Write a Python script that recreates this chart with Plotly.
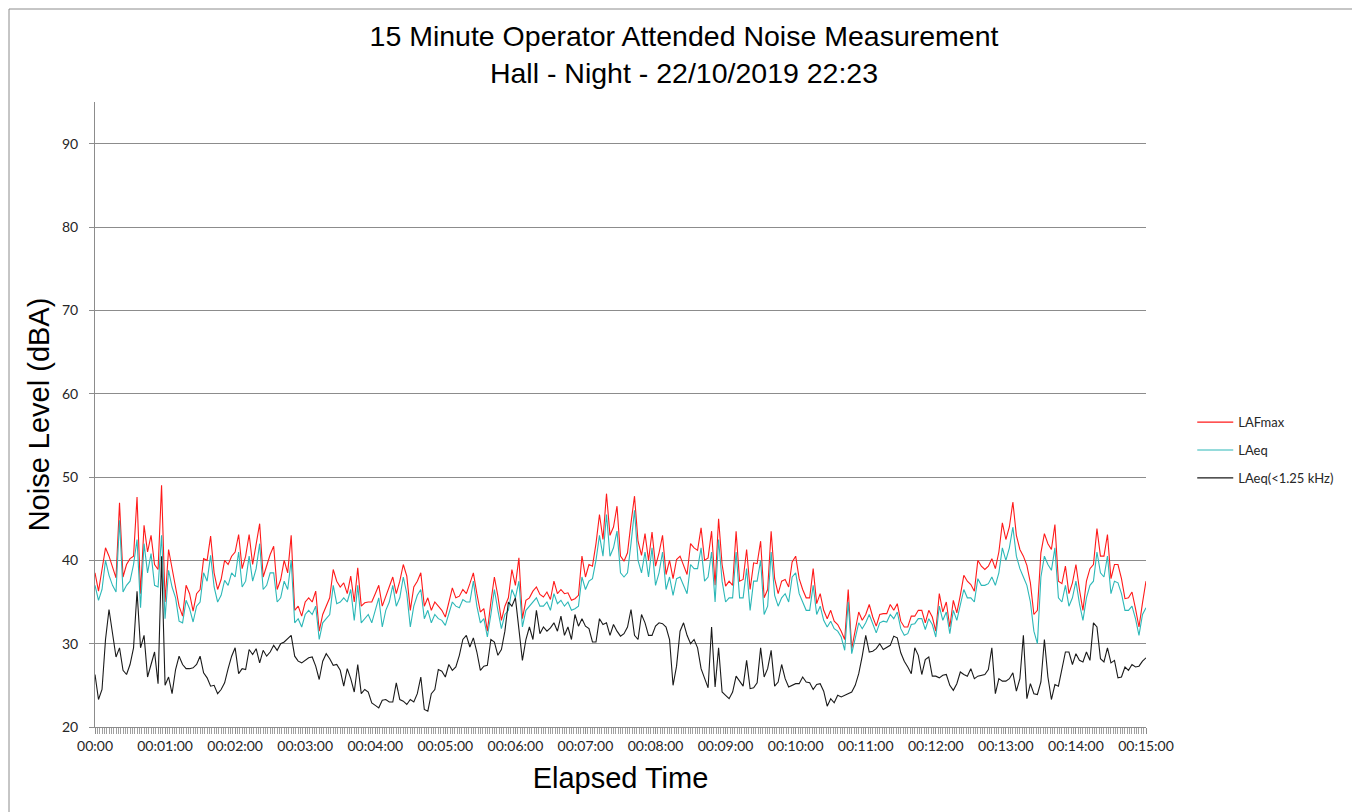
import plotly.graph_objects as go

# Elapsed time in seconds (one reading every 3 s over 15 minutes)
seconds = list(range(0, 901, 3))

tick_seconds = [0, 60, 120, 180, 240, 300, 360, 420, 480, 540, 600, 660, 720, 780, 840, 900]
tick_labels = ["00:00", "00:01:00", "00:02:00", "00:03:00", "00:04:00", "00:05:00",
               "00:06:00", "00:07:00", "00:08:00", "00:09:00", "00:10:00", "00:11:00",
               "00:12:00", "00:13:00", "00:14:00", "00:15:00"]

lafmax = [
    38.5, 36.3, 38.9, 41.5, 40.5, 39.3, 37.9, 46.9, 38.0, 39.5,
    40.2, 40.5, 47.6, 36.0, 44.2, 41.0, 43.0, 39.5, 38.9, 49.0,
    35.0, 41.3, 39.0, 37.0, 34.5, 33.3, 37.0, 36.0, 33.9, 36.0,
    36.5, 40.2, 40.0, 42.9, 38.5, 36.5, 37.7, 40.0, 39.5, 40.5,
    41.0, 43.1, 39.0, 40.5, 43.1, 39.5, 42.0, 44.4, 38.0, 39.5,
    40.7, 41.7, 36.5, 37.7, 40.0, 38.5, 43.0,
    34.0, 34.5, 33.3, 35.0, 35.5, 35.0, 36.3, 31.5, 33.5, 34.5,
    35.5, 38.9, 37.5, 36.8, 37.3, 36.0, 38.1, 35.0, 39.1, 34.5,
    34.9, 35.0, 35.0, 36.0, 37.0, 34.5, 35.7, 37.0, 38.0, 36.0,
    37.5, 39.5, 38.1, 34.0, 36.8, 37.5, 38.5, 34.5, 35.5, 34.0,
    35.0, 34.5, 34.0, 33.2, 34.8, 36.7, 35.5, 35.7, 36.5, 36.0,
    37.2, 38.5, 36.0, 33.8, 34.2, 31.5, 35.0, 38.0, 35.7, 32.8,
    34.5, 35.5, 38.9, 37.0, 40.3, 33.0, 35.2, 35.5, 36.3, 36.8,
    35.9, 35.6, 36.2, 35.3, 37.5, 36.0, 36.5, 36.0, 36.1, 35.2,
    35.4, 35.8, 40.5, 38.0, 39.5, 39.3, 42.0, 45.5, 42.5, 48.0,
    43.0, 44.0, 46.5, 40.5, 39.9, 40.9, 44.5, 47.7, 42.3, 40.6,
    43.2, 40.0, 43.4, 39.3, 40.9, 43.0, 38.3, 40.0, 37.8, 40.1,
    40.5, 39.5, 38.3, 42.0, 41.5, 41.2, 43.9, 40.0, 40.3, 43.5,
    37.0,
    45.0, 39.5, 36.9, 37.5, 37.0, 43.5, 37.5, 37.7, 41.3, 36.5,
    39.7, 39.6, 42.3, 35.5, 36.5, 43.5, 37.8, 36.0, 37.5, 37.7,
    36.8, 39.8, 40.5, 37.8, 36.5, 35.5, 35.5, 39.0, 34.8, 36.0,
    34.0, 33.0, 34.0, 32.7, 32.3, 31.5, 30.5, 36.5, 29.4, 31.5,
    33.8, 32.8, 33.5, 34.7, 33.2, 32.1, 33.5, 33.6, 33.6, 34.7,
    34.0, 34.8, 32.7, 32.0, 32.0, 33.3, 33.3, 34.0, 34.0, 32.5,
    34.0,
    33.2, 31.5, 36.0, 33.8, 35.0, 32.0, 35.2, 33.7, 35.8, 38.2,
    37.5, 37.1, 36.3, 40.0, 39.3, 38.9, 39.3, 40.2, 39.0, 41.0,
    44.5, 42.5, 44.0, 47.0, 43.0, 41.3, 40.5, 39.4, 37.3, 33.5,
    34.0, 40.9, 43.2, 42.0, 41.3, 44.3, 37.5, 37.2, 39.3, 36.0,
    37.3, 39.5, 36.5, 34.0, 37.5, 39.0, 39.5, 43.8, 40.5, 40.5,
    43.1, 37.8, 39.5, 39.5, 37.8, 35.4, 35.5, 36.2, 34.2, 32.0,
    34.9, 37.5,
]

laeq = [
    37.0, 35.2, 36.5, 40.0, 38.2, 37.0, 36.2, 44.8, 36.2, 37.0,
    37.5, 39.5, 42.5, 34.3, 42.0, 38.5, 40.8, 37.0, 36.8, 43.0,
    33.0, 38.8, 36.8, 35.5, 32.7, 32.5, 35.2, 34.2, 32.6, 34.5,
    35.0, 38.5, 37.5, 40.6, 36.8, 35.0, 35.8, 37.6, 37.0, 38.5,
    38.0, 41.0, 36.8, 37.5, 40.5, 37.5, 39.0, 42.0, 36.5, 37.0,
    38.5, 38.5, 35.0, 35.5, 37.5, 36.5, 40.0,
    32.5, 33.0, 32.0, 33.5, 34.0, 33.5, 34.5, 30.5, 32.5, 33.0,
    33.5, 37.0, 34.8, 35.0, 35.5, 35.0, 36.5, 32.8, 37.0, 32.5,
    33.0, 33.5, 32.5, 34.0, 35.5, 32.0, 34.0, 35.0, 37.0, 34.5,
    35.5, 38.0, 36.0, 32.0, 34.5, 35.8, 36.5, 33.0, 34.0, 32.5,
    33.5, 33.0, 32.8, 32.2, 33.5, 35.0, 34.5, 34.3, 35.3, 35.0,
    35.0, 37.5, 34.5, 32.5, 33.0, 30.8, 33.5, 36.5, 34.0, 31.8,
    33.5, 34.0, 36.5, 35.5, 37.5, 32.0, 34.0, 34.5, 35.0, 35.5,
    34.5, 34.5, 35.0, 34.0, 36.0, 34.8, 35.2, 34.5, 35.0, 34.0,
    34.2, 34.5, 38.0, 36.5, 37.5, 37.8, 40.0, 43.0, 40.5, 45.5,
    40.5, 41.5, 43.5, 38.5, 38.0, 38.5, 42.0, 46.0, 40.0, 38.5,
    41.0, 38.0, 41.5, 37.0, 38.5, 41.0, 36.5, 38.0, 35.8, 37.8,
    38.0, 37.0, 36.0, 39.5, 39.0, 39.0, 41.5, 37.5, 38.0, 41.0,
    35.0,
    42.5, 37.5, 35.0, 35.5, 35.5, 41.0, 35.5, 35.5, 39.0, 34.0,
    37.5, 37.5, 40.0, 33.5, 34.5, 41.0, 35.8, 34.5, 35.5, 36.0,
    35.0, 38.0, 38.5, 36.0, 35.0, 34.0, 34.0, 37.0, 33.5, 34.5,
    32.8, 32.0, 32.7, 31.8, 31.5, 30.8, 29.2, 35.0, 28.8, 30.5,
    32.5, 31.8, 32.5, 33.5, 32.3, 31.3, 32.5, 32.7, 32.6, 33.5,
    33.0, 33.8, 31.8, 31.0, 31.2, 32.3, 32.4, 33.0, 33.0, 31.7,
    33.0,
    32.3, 30.8, 34.5, 32.8, 33.8, 31.2, 34.0, 32.8, 34.5, 36.5,
    35.5, 35.5, 35.0, 37.8, 37.0, 37.0, 37.2, 38.0, 37.0, 38.5,
    41.5, 40.0, 41.5, 44.0, 40.5, 39.0, 38.0, 37.0, 35.0, 31.5,
    30.0, 38.0, 40.5, 39.5, 38.8, 41.5, 35.5, 35.0, 37.0, 34.5,
    35.5, 37.5, 34.8, 32.8, 35.5, 37.0, 37.5, 41.0, 38.5, 38.0,
    40.5, 36.0, 37.5, 37.3, 36.0, 34.0, 34.0, 34.5, 33.0, 31.0,
    33.5, 34.3,
]

laeq_low = [
    26.3, 23.3, 24.5, 30.5, 34.1, 31.0, 28.4, 29.5, 26.8, 26.3,
    27.5, 29.5, 36.3, 29.5, 31.0, 26.0, 27.5, 29.0, 25.2, 40.5,
    25.0, 26.0, 24.0, 26.9, 28.5, 27.5, 27.0, 27.0, 27.1, 27.5,
    28.5, 26.5, 25.9, 24.9, 25.0, 24.0, 24.5, 25.3, 27.0, 28.5,
    29.5, 26.4, 27.0, 26.9, 29.3, 28.7, 29.4, 27.7, 29.2, 28.5,
    29.0, 29.8, 29.2, 30.0, 30.2, 30.6, 31.0,
    28.5, 27.9, 27.7, 28.0, 28.3, 28.4, 27.3, 25.7, 27.9, 28.8,
    28.2, 27.4, 27.5, 26.8, 24.9, 27.0, 25.8, 24.2, 27.5, 24.0,
    24.5, 24.2, 22.9, 22.6, 22.3, 23.2, 23.3, 23.0, 23.0, 25.3,
    23.3, 23.1, 22.7, 23.3, 23.0, 24.0, 26.0, 22.1, 21.9, 24.0,
    24.5, 26.9, 26.7, 26.0, 27.5, 26.8, 27.2, 28.6, 30.5, 31.0,
    29.6, 30.7, 29.0, 26.8, 27.3, 27.4, 30.5, 30.2, 28.6, 29.3,
    31.5, 35.0, 34.5, 35.5, 31.5, 28.0, 30.5, 32.0, 30.5, 34.0,
    31.2, 32.0, 31.5, 31.9, 32.5, 31.5, 33.3, 31.0, 32.0, 30.5,
    33.5, 32.1, 33.0, 32.1, 31.8, 30.2, 30.2, 33.0, 32.3, 32.5,
    31.0, 32.3, 31.5, 30.9, 31.2, 32.0, 34.1, 31.0, 30.5, 33.5,
    32.5, 31.0, 31.0, 32.1, 32.5, 32.4, 32.0, 30.5, 25.0, 27.3,
    31.5, 32.5, 31.0, 30.0, 30.5, 29.5, 27.0, 25.8, 24.7, 32.0,
    24.8,
    29.5, 24.2, 23.8, 23.4, 24.2, 26.1, 25.5, 24.9, 28.0, 24.6,
    24.7, 25.3, 29.5, 26.0, 27.0, 29.2, 24.9, 25.4, 27.5, 25.8,
    24.8, 25.0, 25.2, 25.2, 26.0, 25.4, 25.3, 24.5, 25.1, 25.2,
    24.3, 22.5, 23.4, 22.9, 23.8, 23.6, 23.8, 24.0, 24.2, 25.0,
    26.4, 28.5, 31.0, 29.0, 29.1, 29.4, 30.0, 29.3, 29.5, 29.8,
    30.9, 30.7, 28.9, 27.9, 27.2, 26.4, 29.5, 28.6, 26.3, 28.1,
    28.4,
    26.1, 26.1, 25.9, 26.2, 26.3, 25.0, 24.4, 25.2, 26.6, 26.3,
    26.1, 27.0, 25.8, 26.1, 26.2, 26.3, 26.9, 29.5, 24.0, 25.8,
    25.5, 25.5, 25.8, 26.5, 24.3, 25.8, 31.0, 23.4, 25.2, 24.0,
    23.9, 25.4, 30.5, 26.0, 23.3, 25.1, 24.9, 27.0, 29.0, 29.0,
    27.5, 28.8, 28.0, 27.8, 29.0, 28.0, 32.5, 32.0, 28.2, 27.8,
    29.5, 27.7, 28.0, 25.9, 26.0, 27.2, 26.8, 27.5, 27.2, 27.3,
    27.9, 28.3,
]

series_names = ["LAFmax", "LAeq", "LAeq(<1.25 kHz)"]
series_colors = ["#FF1A1A", "#2DB8B8", "#1A1A1A"]
series_values = [lafmax, laeq, laeq_low]

fig = go.Figure()
for name, color, vals in zip(series_names, series_colors, series_values):
    fig.add_trace(go.Scatter(
        x=seconds, y=vals, mode="lines", name=name,
        line=dict(color=color, width=1.1),
        legendgroup=name,
    ))

axis_grey = "#8C8C8C"
label_font = dict(family="Lato, Carlito, sans-serif", size=14, color="#262626")
big_font = dict(family="Liberation Sans, Arial, sans-serif", size=29, color="#000000")

# the page body adds an 8 px offset; the figure is sized so the plot area sits
# at x 95..1146 and y 102..727 in the browser window
fig.update_layout(
    width=1352, height=804,
    margin=dict(l=87, r=214, t=94, b=85),
    paper_bgcolor="white", plot_bgcolor="white",
    title=dict(
        text="15 Minute Operator Attended Noise Measurement<br>Hall - Night - 22/10/2019 22:23",
        x=0.5, xanchor="center", y=0.953, yanchor="top",
        font=dict(family="Liberation Sans, Arial, sans-serif", size=28.5, color="#000000"),
    ),
    xaxis=dict(
        range=[0, 900],
        tickmode="array", tickvals=tick_seconds, ticktext=tick_labels,
        ticks="outside", ticklen=6, tickcolor=axis_grey, tickwidth=1,
        minor=dict(ticks="outside", ticklen=6, dtick=2, tickcolor="#A0A0A0", tickwidth=1),
        showline=True, linecolor=axis_grey, linewidth=1,
        showgrid=False, zeroline=False,
        tickfont=label_font,
        title=dict(text="Elapsed Time", standoff=14, font=big_font),
    ),
    yaxis=dict(
        range=[20, 95],
        tickmode="array", tickvals=[20, 30, 40, 50, 60, 70, 80, 90],
        ticks="outside", ticklen=5, tickcolor=axis_grey,
        ticklabelstandoff=8,
        showline=True, linecolor=axis_grey, linewidth=1,
        showgrid=True, gridcolor=axis_grey, gridwidth=1,
        zeroline=False,
        tickfont=label_font,
        title=dict(text="Noise Level (dBA)", standoff=3, font=big_font),
    ),
    legend=dict(
        x=1.044, xanchor="left", y=0.443, yanchor="middle",
        font=dict(family="Lato, Carlito, sans-serif", size=13, color="#262626"),
        tracegroupgap=8, itemwidth=36,
        bgcolor="rgba(0,0,0,0)",
    ),
    showlegend=True,
)

# outer chart frame, just inside the figure edge (paper coords of the plot area)
plot_w = 1352 - 87 - 214
plot_h = 804 - 94 - 85
fig.add_shape(type="rect", xref="paper", yref="paper",
              x0=(1 - 87) / plot_w, x1=(1346 - 87) / plot_w,
              y0=(plot_h + 94 - 830) / plot_h, y1=(plot_h + 94 - 1) / plot_h,
              line=dict(color="#8C8C8C", width=1), fillcolor="rgba(0,0,0,0)", layer="below")

fig.write_html("out.html")
